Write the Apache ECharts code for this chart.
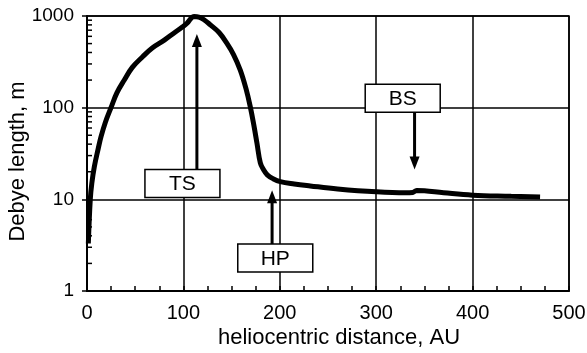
<!DOCTYPE html>
<html>
<head>
<meta charset="utf-8">
<script src="https://cdn.jsdelivr.net/npm/echarts@6/dist/echarts.min.js"></script>
<style>
html,body{margin:0;padding:0;background:#fff;}
#chart{width:587px;height:353px;}
</style>
</head>
<body>
<div id="chart"></div>
<script>
// curve
var distance = [1.4, 3.4, 5, 7.6, 11.7, 14.5, 19, 24.9, 31, 38.7, 47, 57.7, 68, 80.2, 90, 99.2, 104, 107.9, 111, 116, 121, 128, 137, 145, 152, 159, 165, 169.4, 173, 176.3, 179.8, 183.2, 187, 193, 200.5, 215, 231.6, 260, 300, 330, 338, 342, 350, 370, 400, 440, 470];
var debye = [3.3, 10, 15, 22.7, 36, 48, 69, 100, 145, 200, 275, 359, 450, 546, 650, 762, 840, 942, 990, 975, 915, 800, 660, 506, 380, 257, 160, 102, 65, 41, 25, 21, 18.5, 16.8, 15.6, 14.7, 14, 13, 12.1, 11.8, 11.9, 12.5, 12.4, 11.8, 11.1, 10.8, 10.6];

var yMinorTicks = [2, 3, 4, 5, 6, 7, 8, 9, 20, 30, 40, 50, 60, 70, 80, 90, 200, 300, 400, 500, 600, 700, 800, 900];

// annotations: label, box centre, arrow x and arrow tip
var noteLabels = ['TS', 'HP', 'BS'];
var noteBoxX = [99, 195.3, 327.5];
var noteBoxY = [14.9, 2.29, 127];
var noteArrowX = [114, 192, 339.8];
var noteTipY = [635, 12.6, 21.2];

var font = '"Liberation Sans", Arial, Helvetica, sans-serif';

var curve = distance.map(function (d, i) { return [d, debye[i]]; });
var notes = noteLabels.map(function (t, i) {
	return [noteBoxX[i], noteBoxY[i], noteArrowX[i], noteTipY[i]];
});

function drawMinorTick(params, api) {
	var p = api.coord([0, api.value(0)]);
	return {
		type: 'line',
		shape: { x1: p[0], y1: p[1], x2: p[0] + 5, y2: p[1] },
		style: { stroke: '#000', lineWidth: 1.5 }
	};
}

function drawNote(params, api) {
	var c = api.coord([api.value(0), api.value(1)]);
	var ax = api.coord([api.value(2), api.value(3)]);
	var w = 75, h = 28;
	var up = ax[1] < c[1];
	var y0 = up ? c[1] - h / 2 : c[1] + h / 2;
	var dir = up ? 1 : -1;
	return {
		type: 'group',
		children: [
			{ type: 'line', shape: { x1: ax[0], y1: y0, x2: ax[0], y2: ax[1] + dir * 10 },
				style: { stroke: '#000', lineWidth: 3 } },
			{ type: 'polygon', shape: { points: [[ax[0], ax[1]], [ax[0] - 5, ax[1] + dir * 13], [ax[0] + 5, ax[1] + dir * 13]] },
				style: { fill: '#000' } },
			{ type: 'rect', shape: { x: c[0] - w / 2, y: c[1] - h / 2, width: w, height: h },
				style: { fill: '#fff', stroke: '#000', lineWidth: 1.5 } },
			{ type: 'text', x: c[0], y: c[1] + 1,
				style: { text: noteLabels[params.dataIndex], fill: '#000', font: '21px ' + font, align: 'center', verticalAlign: 'middle' } }
		]
	};
}

var chart = echarts.init(document.getElementById('chart'));
chart.setOption({
	animation: false,
	backgroundColor: '#fff',
	grid: { left: 87, right: 18, top: 16, bottom: 62, show: true, borderColor: '#000', borderWidth: 1.5, outerBoundsMode: 'none' },
	xAxis: {
		type: 'value', min: 0, max: 500, interval: 100,
		name: 'heliocentric distance, AU', nameLocation: 'middle', nameGap: 36, nameMoveOverlap: false,
		nameTextStyle: { color: '#000', fontSize: 22, fontFamily: font, padding: [0, 0, 0, 22] },
		axisLine: { lineStyle: { color: '#000', width: 2 } },
		axisTick: { inside: true, length: 5, lineStyle: { color: '#000', width: 1.5 } },
		minorTick: { show: true, splitNumber: 4, length: 5, lineStyle: { color: '#000', width: 1.5 } },
		axisLabel: { color: '#000', fontSize: 20, fontFamily: font, margin: 12 },
		splitLine: { lineStyle: { color: '#000', width: 1.5 } }
	},
	yAxis: {
		type: 'log', logBase: 10, min: 1, max: 1000,
		name: 'Debye length, m', nameLocation: 'middle', nameGap: 58, nameMoveOverlap: false,
		nameTextStyle: { color: '#000', fontSize: 22, fontFamily: font, padding: [0, 16, 0, 0] },
		axisLine: { lineStyle: { color: '#000', width: 2 } },
		axisTick: { length: 5, lineStyle: { color: '#000', width: 1.5 } },
		axisLabel: { color: '#000', fontSize: 19, fontFamily: font, margin: 13, formatter: function (v) { return String(v); } },
		splitLine: { lineStyle: { color: '#000', width: 1.5 } }
	},
	series: [
		{
			type: 'custom', renderItem: drawMinorTick, silent: true,
			data: yMinorTicks.map(function (v) { return [v]; }),
			encode: { y: 0 }
		},
		{
			type: 'line', data: curve, showSymbol: false, smooth: 0.4,
			lineStyle: { color: '#000', width: 5 }, clip: true, z: 3
		},
		{
			type: 'custom', renderItem: drawNote, data: notes, silent: true, z: 5,
			encode: { x: [0, 2], y: [1, 3] }
		}
	]
});
</script>
</body>
</html>
